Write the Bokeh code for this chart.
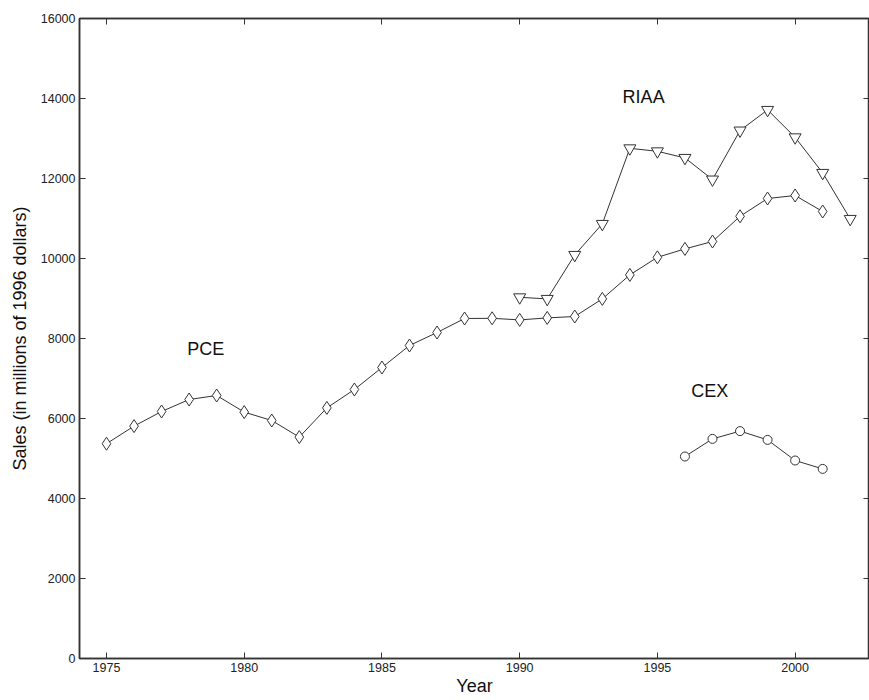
from bokeh.plotting import figure
from bokeh.models import Range1d, LinearAxis, FixedTicker, Label
from bokeh.embed import file_html
from bokeh.resources import INLINE

pce_years = list(range(1975, 2002))
pce_sales = [5370, 5810, 6175, 6475, 6575, 6160, 5950, 5535, 6265, 6725, 7275,
             7825, 8150, 8500, 8505, 8465, 8515, 8550, 8990, 9590, 10030,
             10240, 10425, 11055, 11500, 11575, 11175]
riaa_years = list(range(1990, 2003))
riaa_sales = [9030, 8990, 10090, 10865, 12755, 12680, 12515, 11975, 13200,
              13715, 13030, 12140, 10990]
cex_years = list(range(1996, 2002))
cex_sales = [5050, 5490, 5685, 5465, 4950, 4740]

x_ticks = [1975, 1980, 1985, 1990, 1995, 2000]
y_ticks = [0, 2000, 4000, 6000, 8000, 10000, 12000, 14000, 16000]

FONT = "Liberation Sans"
LC = "#333333"

p = figure(width=869, height=700, output_backend="svg", toolbar_location=None,
           x_range=Range1d(1974.02, 2002.7), y_range=Range1d(0, 16000),
           min_border_left=79, min_border_top=18, min_border_right=0,
           min_border_bottom=42, x_axis_label="Year",
           y_axis_label="Sales (in millions of 1996 dollars)")
p.grid.visible = False
p.outline_line_color = LC
p.outline_line_width = 1.5
p.background_fill_color = "white"
p.border_fill_color = "white"

for ax, ticks in ((p.xaxis[0], x_ticks), (p.yaxis[0], y_ticks)):
    ax.ticker = FixedTicker(ticks=ticks)
    ax.major_tick_in = 6
    ax.major_tick_out = 0
    ax.minor_tick_in = 0
    ax.minor_tick_out = 0
    ax.axis_line_color = LC
    ax.axis_line_width = 1.5
    ax.major_tick_line_color = LC
    ax.major_label_text_font = FONT
    ax.major_label_text_font_size = "12.5px"
    ax.major_label_text_color = "#222222"
    ax.axis_label_text_font = FONT
    ax.axis_label_text_font_size = "18px"
    ax.axis_label_text_font_style = "normal"
    ax.axis_label_text_color = "#111111"
p.xaxis[0].major_label_standoff = 4
p.xaxis[0].axis_label_standoff = 1
p.yaxis[0].major_label_standoff = 4
p.yaxis[0].axis_label_standoff = 8

top = LinearAxis(ticker=FixedTicker(ticks=x_ticks), major_tick_in=6, major_tick_out=0,
                 minor_tick_in=0, minor_tick_out=0,
                 major_label_overrides={t: "" for t in x_ticks},
                 major_label_standoff=0, axis_line_color=LC, axis_line_width=1.5,
                 major_tick_line_color=LC)
right = LinearAxis(ticker=FixedTicker(ticks=y_ticks), major_tick_in=6, major_tick_out=0,
                   minor_tick_in=0, minor_tick_out=0,
                   major_label_overrides={t: "" for t in y_ticks},
                   major_label_standoff=0, axis_line_color=LC, axis_line_width=1.5,
                   major_tick_line_color=LC)
p.add_layout(top, "above")
p.add_layout(right, "right")

p.line(pce_years, pce_sales, line_color=LC, line_width=1)
p.scatter(pce_years, pce_sales, marker="diamond", size=13, fill_color="white",
          line_color=LC, line_width=1)
p.line(riaa_years, riaa_sales, line_color=LC, line_width=1)
p.scatter(riaa_years, riaa_sales, marker="inverted_triangle", size=12, fill_color="white",
          line_color=LC, line_width=1)
p.line(cex_years, cex_sales, line_color=LC, line_width=1)
p.scatter(cex_years, cex_sales, marker="circle", size=9, fill_color="white",
          line_color=LC, line_width=1)

for txt, x, y in (("PCE", 1978.6, 7750), ("RIAA", 1994.5, 14030), ("CEX", 1996.9, 6700)):
    p.add_layout(Label(x=x, y=y, text=txt, text_font=FONT, text_font_size="18px",
                       text_color="#111111", text_align="center", text_baseline="middle"))

open("out.html", "w").write(file_html(p, INLINE))
